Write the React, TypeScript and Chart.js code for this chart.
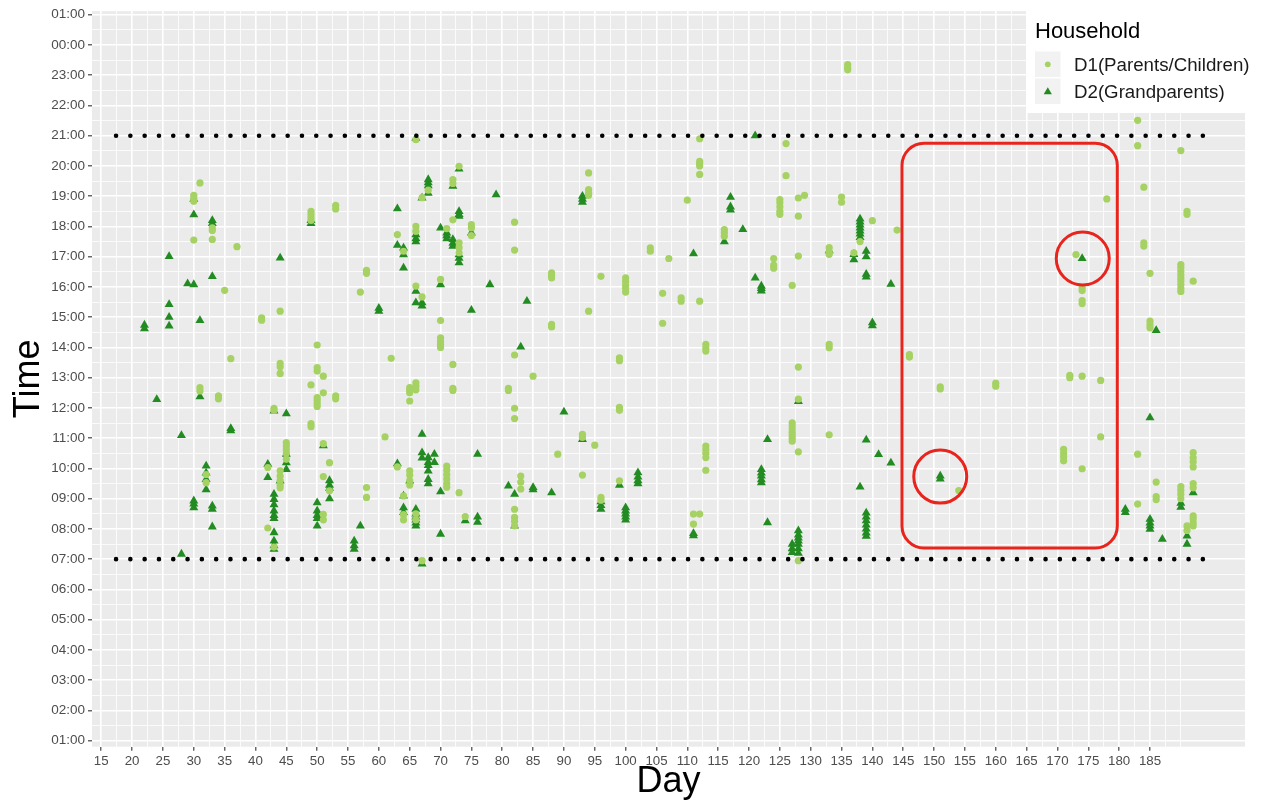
import { useEffect, useRef } from 'react';
import { Chart, registerables } from 'chart.js';

Chart.register(...registerables);

const FONT = "'Liberation Sans', Arial, Helvetica, sans-serif";

// Axis labels
const dayTickLabels = [15, 20, 25, 30, 35, 40, 45, 50, 55, 60, 65, 70, 75, 80, 85, 90, 95, 100, 105, 110, 115, 120, 125, 130, 135, 140, 145, 150, 155, 160, 165, 170, 175, 180, 185];
const hourTickLabels = ['01:00', '02:00', '03:00', '04:00', '05:00', '06:00', '07:00', '08:00', '09:00', '10:00', '11:00', '12:00', '13:00', '14:00', '15:00', '16:00', '17:00', '18:00', '19:00', '20:00', '21:00', '22:00', '23:00', '00:00', '01:00'];
const hourTickValues = [1, 2, 3, 4, 5, 6, 7, 8, 9, 10, 11, 12, 13, 14, 15, 16, 17, 18, 19, 20, 21, 22, 23, 24, 25];
const extraMinorDays = [187.5, 190];

// Household D1 (parents / children): [day, time of day in hours]
const d1Parents: [number, number][] = [
  [30, 19.03], [30, 18.93], [30, 18.83], [31, 19.44], [33, 17.95], [33, 17.87], [33, 17.57], [30, 17.55], [37, 17.33], [35, 15.89],
  [41, 14.98], [41, 14.9], [44, 15.2], [36, 13.63], [44, 13.47], [44, 13.36], [44, 13.14], [31, 12.67], [31, 12.56], [34, 12.4],
  [34, 12.3], [43, 11.99], [43, 11.92], [42, 10.03], [45, 10.85], [45, 10.74], [45, 10.62], [45, 10.5], [45, 10.3], [44, 9.92],
  [44, 9.75], [44, 9.6], [44, 9.45], [44, 9.36], [32, 9.8], [32, 9.53], [42, 8.03], [43, 7.4],
  [66, 20.87], [73, 19.99], [68, 19.2], [72, 19.55], [72, 19.42], [67, 18.95], [49, 18.5], [49, 18.4], [49, 18.3], [49, 18.2],
  [53, 18.7], [53, 18.58], [72, 18.22], [71, 17.93], [73, 17.46], [73, 17.3], [73, 17.13], [66, 18.0], [66, 17.84], [63, 17.73],
  [64, 17.18], [75, 18.06], [75, 17.95], [75, 17.7], [58, 16.55], [58, 16.45], [57, 15.83], [66, 16.03], [67, 15.67], [70, 16.25],
  [70, 14.89], [70, 14.32], [70, 14.2], [70, 14.1], [70, 14.0], [72, 13.44], [72, 12.65], [72, 12.58], [62, 13.64], [65, 12.67],
  [65, 12.58], [65, 12.5], [65, 12.23], [66, 12.83], [66, 12.72], [66, 12.6], [50, 14.08], [50, 13.33], [50, 13.22], [50, 12.34],
  [50, 12.25], [50, 12.15], [50, 12.05], [51, 13.05], [49, 12.76], [51, 12.5], [53, 12.4], [53, 12.3], [49, 11.48], [49, 11.38],
  [61, 11.04], [71, 10.08], [71, 9.95], [71, 9.8], [71, 9.65], [71, 9.5], [71, 9.38], [73, 9.2], [63, 10.05], [65, 9.92],
  [65, 9.78], [65, 9.6], [65, 9.45], [51, 10.82], [52, 10.19], [52, 9.26], [51, 9.73], [58, 9.37], [58, 9.04], [64, 9.09],
  [64, 8.47], [64, 8.3], [66, 8.5], [66, 8.3], [51, 8.48], [51, 8.3], [74, 8.41], [67, 6.95],
  [94, 19.77], [94, 19.22], [94, 19.1], [94, 19.03], [82, 18.14], [82, 17.22], [104, 17.29], [104, 17.18], [107, 16.94], [88, 16.47],
  [88, 16.38], [88, 16.3], [96, 16.35], [100, 16.3], [100, 16.18], [100, 16.05], [100, 15.95], [100, 15.83], [94, 15.2], [106, 15.79],
  [106, 14.8], [88, 14.76], [88, 14.68], [82, 13.75], [85, 13.05], [81, 12.65], [81, 12.58], [82, 11.99], [82, 11.65], [99, 13.66],
  [99, 13.56], [99, 12.02], [99, 11.92], [93, 11.13], [93, 11.03], [95, 10.77], [89, 10.47], [93, 9.78], [83, 9.75], [83, 9.55],
  [83, 9.32], [99, 9.59], [96, 9.04], [96, 8.95], [82, 8.65], [82, 8.38], [82, 8.25], [82, 8.1],
  [112, 20.9], [112, 20.15], [112, 20.07], [112, 20.0], [112, 19.72], [126, 20.74], [126, 19.68], [110, 18.87], [125, 18.89], [125, 18.78],
  [125, 18.65], [125, 18.5], [125, 18.4], [128, 18.94], [129, 19.03], [128, 18.34], [135, 18.97], [135, 18.8], [116, 17.9], [116, 17.8],
  [116, 17.68], [124, 16.94], [124, 16.72], [124, 16.62], [128, 17.02], [133, 17.3], [133, 17.15], [133, 17.08], [137, 17.13], [138, 17.5],
  [127, 16.05], [109, 15.64], [109, 15.53], [112, 15.53], [113, 14.1], [113, 13.98], [113, 13.88], [133, 14.1], [133, 13.99], [128, 13.35],
  [128, 12.29], [127, 11.51], [127, 11.4], [127, 11.3], [127, 11.2], [127, 11.1], [127, 11.0], [127, 10.9], [133, 11.11], [128, 10.55],
  [113, 10.74], [113, 10.62], [113, 10.5], [113, 10.36], [113, 9.94], [111, 8.49], [112, 8.49], [111, 8.16], [128, 6.95], [136, 23.35],
  [136, 23.25], [136, 23.18],
  [140, 18.19], [144, 17.88], [146, 13.76], [146, 13.68], [151, 12.7], [151, 12.63], [160, 12.82], [160, 12.72], [154, 9.27],
  [183, 21.51], [183, 20.67], [190, 20.51], [184, 19.3], [178, 18.91], [191, 18.5], [191, 18.4], [184, 17.46], [184, 17.35], [173, 17.07],
  [174, 15.98], [174, 15.88], [174, 15.55], [174, 15.45], [185, 16.45], [190, 16.74], [190, 16.64], [190, 16.52], [190, 16.4], [190, 16.3],
  [190, 16.2], [190, 16.08], [190, 15.95], [190, 15.85], [192, 16.19], [185, 14.87], [185, 14.75], [185, 14.65], [172, 13.08], [172, 13.0],
  [174, 13.05], [177, 12.91], [177, 11.04], [171, 10.63], [171, 10.5], [171, 10.38], [171, 10.25], [174, 9.99], [183, 10.47], [192, 10.52],
  [192, 10.35], [192, 10.22], [192, 10.05], [186, 9.55], [186, 9.07], [186, 8.97], [183, 8.82], [190, 9.4], [190, 9.28], [190, 9.15],
  [190, 9.0], [192, 9.5], [192, 9.36], [192, 8.43], [192, 8.33], [192, 8.2], [192, 8.1], [191, 8.1], [191, 7.95],
];

// Household D2 (grandparents): [day, time of day in hours]
const d2Grandparents: [number, number][] = [
  [30, 18.9], [30, 18.39], [33, 18.2], [33, 18.1], [26, 17.01], [44, 16.96], [33, 16.35], [29, 16.11], [30, 16.08], [26, 15.42],
  [26, 15.0], [26, 14.71], [22, 14.74], [22, 14.62], [31, 14.89], [31, 12.37], [24, 12.28], [43, 11.9], [45, 11.81], [28, 11.09],
  [36, 11.32], [36, 11.25], [42, 10.14], [42, 9.7], [45, 10.47], [45, 10.19], [45, 9.97], [44, 9.59], [32, 10.08], [32, 9.85],
  [32, 9.64], [32, 9.3], [30, 8.93], [30, 8.83], [30, 8.7], [33, 8.76], [33, 8.65], [33, 8.07], [43, 9.15], [43, 8.98],
  [43, 8.8], [43, 8.6], [43, 8.45], [43, 8.35], [43, 7.88], [43, 7.6], [43, 7.45], [43, 7.33], [28, 7.17],
  [66, 20.92], [73, 19.9], [68, 19.55], [68, 19.45], [68, 19.35], [68, 19.1], [72, 19.33], [67, 18.94], [49, 18.2], [49, 18.1],
  [63, 18.59], [73, 18.5], [73, 18.4], [73, 18.34], [70, 17.95], [71, 17.79], [71, 17.7], [71, 17.6], [72, 17.57], [72, 17.45],
  [72, 17.35], [73, 17.07], [73, 16.95], [73, 16.8], [66, 17.73], [66, 17.6], [66, 17.5], [63, 17.38], [64, 17.29], [64, 17.07],
  [64, 16.63], [75, 17.79], [60, 15.3], [60, 15.2], [66, 15.86], [67, 15.48], [67, 15.37], [66, 15.48], [70, 16.08], [75, 15.23],
  [67, 11.13], [67, 10.52], [67, 10.35], [68, 10.36], [68, 10.2], [68, 10.1], [68, 9.92], [69, 10.47], [69, 10.2], [68, 9.64],
  [68, 9.5], [70, 9.23], [63, 10.16], [65, 9.59], [51, 10.75], [52, 9.6], [52, 9.45], [52, 9.35], [52, 9.0], [64, 9.09],
  [64, 8.7], [64, 8.55], [66, 8.65], [66, 8.5], [66, 8.4], [66, 8.3], [66, 8.2], [66, 8.1], [50, 8.87], [50, 8.6],
  [50, 8.45], [50, 8.35], [50, 8.1], [57, 8.1], [56, 7.6], [56, 7.45], [56, 7.33], [70, 7.83], [74, 8.27], [76, 8.4],
  [76, 8.22], [67, 6.84], [76, 10.47],
  [93, 19.0], [93, 18.9], [93, 18.8], [79, 19.05], [78, 16.08], [84, 15.53], [83, 14.02], [90, 11.87], [93, 10.96], [81, 9.42],
  [82, 9.15], [85, 9.37], [85, 9.3], [88, 9.2], [99, 9.45], [102, 9.86], [102, 9.72], [102, 9.6], [102, 9.5], [96, 8.9],
  [96, 8.78], [96, 8.65], [100, 8.7], [100, 8.6], [100, 8.5], [100, 8.4], [100, 8.3], [82, 8.1],
  [121, 21.0], [117, 18.97], [117, 18.65], [117, 18.55], [119, 17.9], [116, 17.5], [111, 17.1], [133, 17.2], [137, 17.08], [137, 16.9],
  [121, 16.3], [122, 16.03], [122, 15.95], [122, 15.87], [128, 12.22], [123, 10.96], [122, 9.97], [122, 9.85], [122, 9.75], [122, 9.63],
  [122, 9.53], [123, 8.21], [111, 7.85], [111, 7.78], [128, 7.94], [128, 7.8], [128, 7.7], [128, 7.6], [128, 7.5], [128, 7.35],
  [128, 7.2], [127, 7.5], [127, 7.35], [127, 7.22],
  [138, 18.25], [138, 18.15], [138, 18.05], [138, 17.95], [138, 17.85], [138, 17.75], [138, 17.64], [139, 17.18], [139, 17.0], [139, 16.42],
  [139, 16.33], [143, 16.09], [140, 14.82], [140, 14.72], [139, 10.94], [141, 10.46], [143, 10.18], [138, 9.39], [139, 8.53], [139, 8.4],
  [139, 8.27], [139, 8.13], [139, 8.0], [139, 7.87], [139, 7.76], [151, 9.75], [151, 9.65],
  [174, 16.94], [186, 14.56], [185, 11.68], [181, 8.65], [181, 8.55], [190, 8.85], [190, 8.72], [192, 9.2], [185, 8.32], [185, 8.2],
  [185, 8.1], [185, 7.99], [187, 7.66], [191, 7.77], [191, 7.5],
];

// Dotted reference lines at 21:00 and 07:00
const refLineHours = [21, 7];
const refLineDays = [17.4, 193.6];

// Highlighted period and circled observations
const highlightDays = [144.8, 179.7];
const highlightHours = [7.37, 20.75];
const circledPoints: [number, number][] = [[151, 9.73], [174.1, 16.94]];

const D1_COLOR = '#a5d263';
const D2_COLOR = '#228b22';
const RED = '#e8241c';

const isMajorDay = (v: number) => dayTickLabels.includes(v);
const isMajorHour = (v: number) => hourTickValues.includes(v);

const dayGrid: number[] = [];
dayTickLabels.forEach((d, i) => {
  dayGrid.push(d);
  if (i < dayTickLabels.length - 1) dayGrid.push((d + dayTickLabels[i + 1]) / 2);
});
extraMinorDays.forEach((d) => dayGrid.push(d));

const hourGrid: number[] = [];
hourTickValues.forEach((h, i) => {
  hourGrid.push(h);
  if (i < hourTickValues.length - 1) hourGrid.push((h + hourTickValues[i + 1]) / 2);
});

const panelBackground = {
  id: 'panelBackground',
  beforeDraw(chart: any) {
    const { ctx, chartArea: a } = chart;
    ctx.save();
    ctx.fillStyle = '#ebebeb';
    ctx.fillRect(a.left, a.top, a.right - a.left, a.bottom - a.top);
    ctx.restore();
  },
};

const highlightBox = {
  id: 'highlightBox',
  afterDatasetsDraw(chart: any) {
    const { ctx, scales } = chart;
    const x0 = scales.x.getPixelForValue(highlightDays[0]);
    const x1 = scales.x.getPixelForValue(highlightDays[1]);
    const y0 = scales.y.getPixelForValue(highlightHours[1]);
    const y1 = scales.y.getPixelForValue(highlightHours[0]);
    ctx.save();
    ctx.strokeStyle = RED;
    ctx.lineWidth = 3;
    ctx.beginPath();
    ctx.roundRect(x0, y0, x1 - x0, y1 - y0, 22);
    ctx.stroke();
    ctx.restore();
  },
};

const householdLegend = {
  id: 'householdLegend',
  afterDraw(chart: any) {
    const { ctx } = chart;
    ctx.save();
    ctx.fillStyle = '#ffffff';
    ctx.fillRect(1027, 9, 234, 104);
    ctx.fillStyle = '#000000';
    ctx.font = `22px ${FONT}`;
    ctx.textBaseline = 'alphabetic';
    ctx.textAlign = 'left';
    ctx.fillText('Household', 1035, 37.5);
    ctx.fillStyle = '#f2f2f2';
    ctx.fillRect(1035, 51.5, 25.5, 25.5);
    ctx.fillRect(1035, 78.5, 25.5, 25.5);
    ctx.fillStyle = D1_COLOR;
    ctx.beginPath();
    ctx.arc(1047.8, 64.3, 2.9, 0, Math.PI * 2);
    ctx.fill();
    ctx.fillStyle = D2_COLOR;
    ctx.beginPath();
    ctx.moveTo(1047.8, 87.2);
    ctx.lineTo(1051.9, 94.2);
    ctx.lineTo(1043.7, 94.2);
    ctx.closePath();
    ctx.fill();
    ctx.fillStyle = '#1a1a1a';
    ctx.font = `18.7px ${FONT}`;
    ctx.fillText('D1(Parents/Children)', 1074, 70.8);
    ctx.fillText('D2(Grandparents)', 1074, 98.3);
    ctx.restore();
  },
};

export default function App() {
  const canvasRef = useRef<HTMLCanvasElement | null>(null);

  useEffect(() => {
    const canvas = canvasRef.current;
    if (!canvas) return;
    const toXY = (pts: [number, number][]) => pts.map(([x, y]) => ({ x, y }));
    const chart = new Chart(canvas, {
      type: 'scatter',
      data: {
        datasets: [
          {
            label: 'circled',
            data: toXY(circledPoints),
            pointStyle: 'circle',
            pointRadius: 26.5,
            backgroundColor: 'rgba(0,0,0,0)',
            borderColor: RED,
            borderWidth: 3,
            order: 0,
          },
          ...refLineHours.map((h) => ({
            label: `ref ${h}`,
            data: refLineDays.map((d) => ({ x: d, y: h })),
            showLine: true,
            pointRadius: 0,
            borderColor: '#000000',
            borderWidth: 4.6,
            borderDash: [0, 14.3],
            borderCapStyle: 'round' as const,
            fill: false,
            order: 1,
          })),
          {
            label: 'D1(Parents/Children)',
            data: toXY(d1Parents),
            pointStyle: 'circle',
            pointRadius: 3.6,
            backgroundColor: D1_COLOR,
            borderColor: D1_COLOR,
            borderWidth: 0,
            order: 2,
          },
          {
            label: 'D2(Grandparents)',
            data: toXY(d2Grandparents),
            pointStyle: 'triangle',
            pointRadius: 5.2,
            backgroundColor: D2_COLOR,
            borderColor: D2_COLOR,
            borderWidth: 0,
            order: 3,
          },
        ],
      },
      options: {
        responsive: false,
        animation: false,
        devicePixelRatio: 1,
        events: [],
        layout: { autoPadding: false, padding: { left: 0, right: 16, top: 9.5, bottom: 0 } },
        plugins: { legend: { display: false }, tooltip: { enabled: false } },
        scales: {
          x: {
            type: 'linear',
            min: 13.5,
            max: 200.4,
            afterBuildTicks: (s: any) => {
              s.ticks = dayGrid.map((v) => ({ value: v }));
            },
            afterFit: (s: any) => {
              s.height = 55.3;
            },
            ticks: {
              autoSkip: false,
              maxRotation: 0,
              minRotation: 0,
              padding: 3,
              color: '#4d4d4d',
              font: { family: FONT, size: 13.3 },
              callback: (v: any) => (isMajorDay(Number(v)) ? String(v) : ''),
            },
            grid: {
              color: '#ffffff',
              lineWidth: (c: any) => (c.tick && isMajorDay(c.tick.value) ? 1.6 : 0.8),
              tickLength: 4,
              tickWidth: 1.1,
              tickColor: (c: any) => (c.tick && isMajorDay(c.tick.value) ? '#333333' : 'rgba(0,0,0,0)'),
            },
            border: { display: false },
            title: {
              display: true,
              text: 'Day',
              color: '#000000',
              font: { family: FONT, size: 36, lineHeight: 1 },
              padding: { top: 0, bottom: 1.5 },
            },
          },
          y: {
            type: 'linear',
            min: 0.8,
            max: 25.12,
            afterBuildTicks: (s: any) => {
              s.ticks = hourGrid.map((v) => ({ value: v }));
            },
            afterFit: (s: any) => {
              s.width = 92;
            },
            ticks: {
              autoSkip: false,
              padding: 3,
              color: '#4d4d4d',
              font: { family: FONT, size: 13.5 },
              callback: (v: any) => {
                const i = hourTickValues.indexOf(Number(v));
                return i >= 0 ? hourTickLabels[i] : '';
              },
            },
            grid: {
              color: '#ffffff',
              lineWidth: (c: any) => (c.tick && isMajorHour(c.tick.value) ? 1.6 : 0.8),
              tickLength: 4,
              tickWidth: 1.1,
              tickColor: (c: any) => (c.tick && isMajorHour(c.tick.value) ? '#333333' : 'rgba(0,0,0,0)'),
            },
            border: { display: false },
            title: {
              display: true,
              text: 'Time',
              color: '#000000',
              font: { family: FONT, size: 36, lineHeight: 1 },
              padding: { top: 11, bottom: 0 },
            },
          },
        },
      },
      plugins: [panelBackground, highlightBox, householdLegend],
    });
    return () => chart.destroy();
  }, []);

  return (
    <div style={{ position: 'fixed', left: 0, top: 0, width: 1261, height: 802, background: '#ffffff' }}>
      <canvas ref={canvasRef} width={1261} height={802} style={{ display: 'block', width: 1261, height: 802 }} />
    </div>
  );
}
